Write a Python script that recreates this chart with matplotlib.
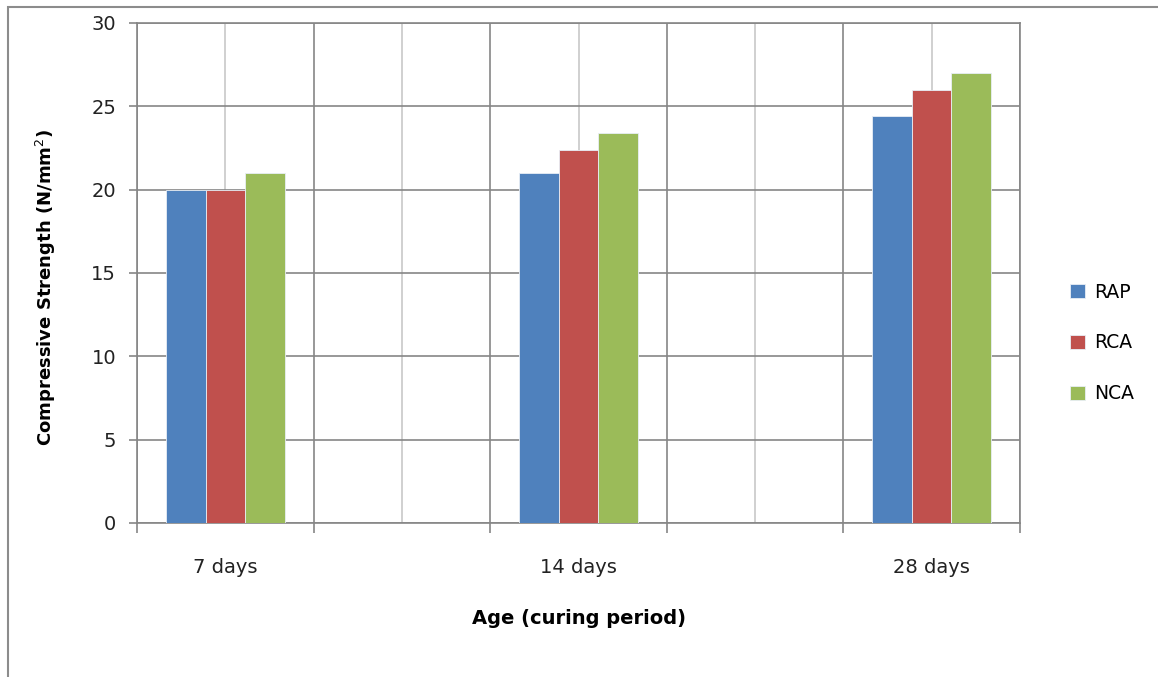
import numpy as np
import matplotlib
matplotlib.use('Agg')
import matplotlib.pyplot as plt
from matplotlib.patches import Rectangle

ages = ['7 days', '14 days', '28 days']
series = ['RAP', 'RCA', 'NCA']
rap = [20, 21, 24.4]
rca = [20, 22.4, 26]
nca = [21, 23.4, 27]
colors = ['#4F81BD', '#C0504D', '#9BBB59']

plt.rcParams['font.family'] = ['DejaVu Sans']

fig = plt.figure(figsize=(11.58, 6.77), dpi=100)
ax = fig.add_axes([137/1158, 1-523/677, 883/1158, 500/677])

# categories sit in every other slot, as in the original sheet
pos = np.arange(len(ages)) * 2
w = 0.224
for i, (vals, name) in enumerate(zip([rap, rca, nca], series)):
    ax.bar(pos + (i-1)*w, vals, w, color=colors[i], label=name,
           edgecolor='#e8eef6', linewidth=0.6, zorder=3)

ax.set_xlim(-0.5, pos[-1] + 0.5)
ax.set_ylim(0, 30)
ax.set_yticks(np.arange(0, 31, 5))

ax.set_xticks(np.arange(-0.5, pos[-1] + 1, 1))
ax.set_xticklabels([])
slots = np.arange(0, pos[-1] + 1)
slot_labels = [''] * len(slots)
for p, a in zip(pos, ages):
    slot_labels[p] = a
ax.set_xticks(slots, minor=True)
ax.set_xticklabels(slot_labels, minor=True)

ax.grid(True, which='major', color='#868686', linewidth=1.2, zorder=0)
ax.grid(True, which='minor', axis='x', color='#c8c8c8', linewidth=1.2, zorder=0)
for s in ax.spines.values():
    s.set_color('#868686')
    s.set_linewidth(1.2)

ax.tick_params(axis='y', length=6, width=1.2, color='#868686', pad=9,
               labelsize=14, labelcolor='#222222')
ax.tick_params(axis='x', which='major', length=7, width=1.2, color='#868686')
ax.tick_params(axis='x', which='minor', length=0, pad=25, labelsize=14,
               labelcolor='#222222')

ax.set_ylabel('Compressive Strength (N/mm$^2$)', fontsize=13, fontweight='bold')
ax.yaxis.set_label_coords(-0.09, 0.47)
ax.set_xlabel('Age (curing period)', fontsize=14, fontweight='bold')
ax.xaxis.set_label_coords(0.5, -0.172)

ax.legend(loc='center left', bbox_to_anchor=(1053/1158, 1-343/677),
          bbox_transform=fig.transFigure, frameon=False, fontsize=13.5,
          handlelength=0.8, handleheight=0.8, handletextpad=0.5,
          labelspacing=1.7)

fig.patches.append(Rectangle((8/1158, -0.1), 1.2, 1.1 - 7/677,
                             transform=fig.transFigure, fill=False,
                             edgecolor='#8c8c8c', linewidth=1.5))

fig.savefig('out.png', dpi=100)
